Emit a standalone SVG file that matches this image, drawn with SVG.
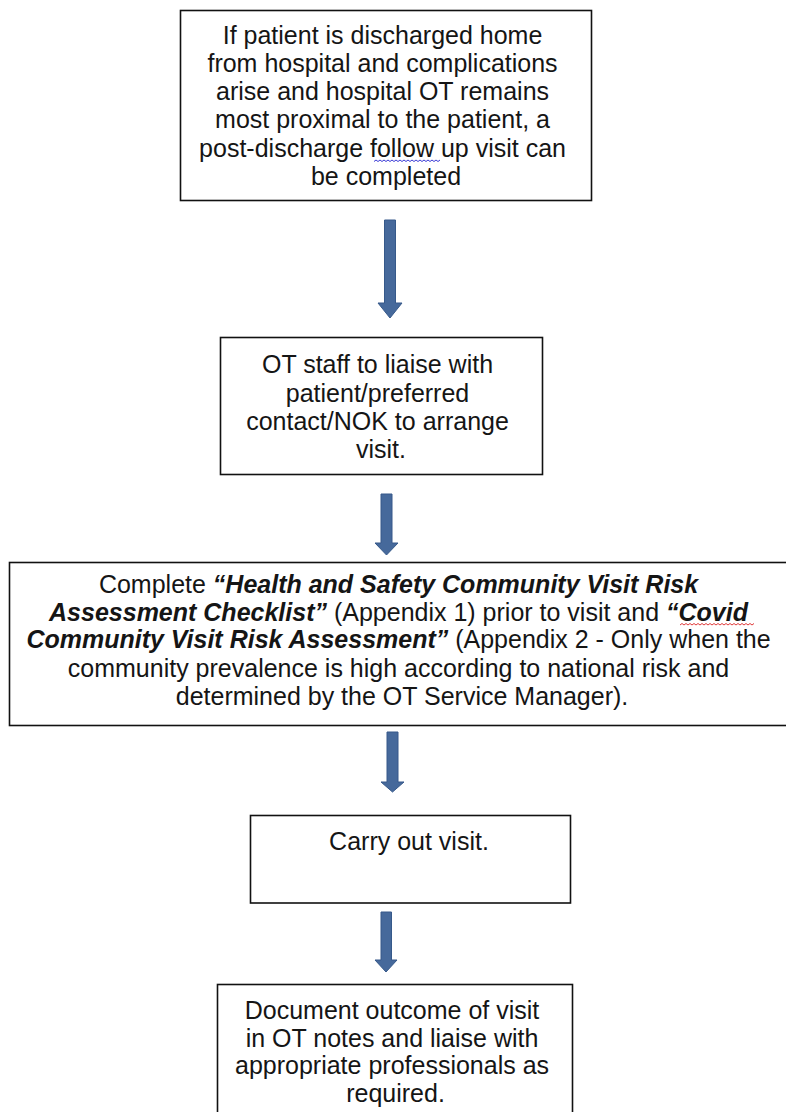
<svg xmlns="http://www.w3.org/2000/svg" width="786" height="1112" viewBox="0 0 786 1112">
<defs>
<style>
.box{fill:#fff;stroke:#111;stroke-width:1.6}
.t{font-family:"Liberation Sans",Arial,sans-serif;font-size:25px;fill:#151515;text-anchor:middle}
.bi{font-weight:bold;font-style:italic}
.arr{fill:#46699b;stroke:#36598a;stroke-width:1}
.wave-b{fill:none;stroke:#3b3bd6;stroke-width:1}
.wave-r{fill:none;stroke:#e03a3a;stroke-width:1}
</style>
</defs>
<rect width="786" height="1112" fill="#fff"/>
<g id="connectors">
<polygon class="arr" points="384.5,220 395.5,220 395.5,303 402,303 390,318 378,303 384.5,303"/>
<polygon class="arr" points="381,494 392,494 392,543 398,543 386.5,555 375,543 381,543"/>
<polygon class="arr" points="387,732 398,732 398,782 404,782 392.5,792 381,782 387,782"/>
<polygon class="arr" points="381,912 391.5,912 391.5,960 397,960 386,972 375,960 381,960"/>
</g>
<g id="node1">
<rect class="box" x="180.5" y="10.5" width="411" height="190"/>
<text class="t">
<tspan x="386" y="44">If patient is discharged home</tspan>
<tspan x="386" y="72">from hospital and complications</tspan>
<tspan x="386" y="100">arise and hospital OT remains</tspan>
<tspan x="386" y="128">most proximal to the patient, a</tspan>
<tspan x="386" y="156.5">post-discharge follow up visit can</tspan>
<tspan x="386" y="184.5">be completed</tspan>
</text>
<path class="wave-b" d="M374,161.5 l2,-1.5 2,1.5 2,-1.5 2,1.5 2,-1.5 2,1.5 2,-1.5 2,1.5 2,-1.5 2,1.5 2,-1.5 2,1.5 2,-1.5 2,1.5 2,-1.5 2,1.5 2,-1.5 2,1.5 2,-1.5 2,1.5 2,-1.5 2,1.5 2,-1.5 2,1.5 2,-1.5 2,1.5 2,-1.5 2,1.5 2,-1.5 2,1.5 2,-1.5 2,1.5 2,-1.5"/>
</g>
<g id="node2">
<rect class="box" x="220.5" y="337.5" width="322" height="137"/>
<text class="t">
<tspan x="381" y="373">OT staff to liaise with</tspan>
<tspan x="381" y="401.5">patient/preferred</tspan>
<tspan x="381" y="430">contact/NOK to arrange</tspan>
<tspan x="381" y="458">visit.</tspan>
</text>
</g>
<g id="node3">
<rect class="box" x="9.5" y="562.5" width="790" height="163"/>
<text class="t">
<tspan x="402" y="593">Complete <tspan class="bi">“Health and Safety Community Visit Risk</tspan></tspan>
<tspan x="402" y="620.5"><tspan class="bi">Assessment Checklist”</tspan> (Appendix 1) prior to visit and <tspan class="bi">“Covid</tspan></tspan>
<tspan x="402" y="648"><tspan class="bi">Community Visit Risk Assessment”</tspan> (Appendix 2 - Only when the</tspan>
<tspan x="402" y="676.5">community prevalence is high according to national risk and</tspan>
<tspan x="402" y="705">determined by the OT Service Manager).</tspan>
</text>
<path class="wave-r" d="M680,625 l2,-1.5 2,1.5 2,-1.5 2,1.5 2,-1.5 2,1.5 2,-1.5 2,1.5 2,-1.5 2,1.5 2,-1.5 2,1.5 2,-1.5 2,1.5 2,-1.5 2,1.5 2,-1.5 2,1.5 2,-1.5 2,1.5 2,-1.5 2,1.5 2,-1.5 2,1.5 2,-1.5 2,1.5 2,-1.5 2,1.5 2,-1.5 2,1.5 2,-1.5 2,1.5 2,-1.5 2,1.5 2,-1.5 2,1.5 2,-1.5"/>
</g>
<g id="node4">
<rect class="box" x="250.5" y="815.5" width="320" height="87.5"/>
<text class="t"><tspan x="409" y="850">Carry out visit.</tspan></text>
</g>
<g id="node5">
<rect class="box" x="217.5" y="984.5" width="355" height="140"/>
<text class="t">
<tspan x="395.5" y="1019">Document outcome of visit</tspan>
<tspan x="395.5" y="1046.5">in OT notes and liaise with</tspan>
<tspan x="395.5" y="1074">appropriate professionals as</tspan>
<tspan x="395.5" y="1101.5">required.</tspan>
</text>
</g>
</svg>
